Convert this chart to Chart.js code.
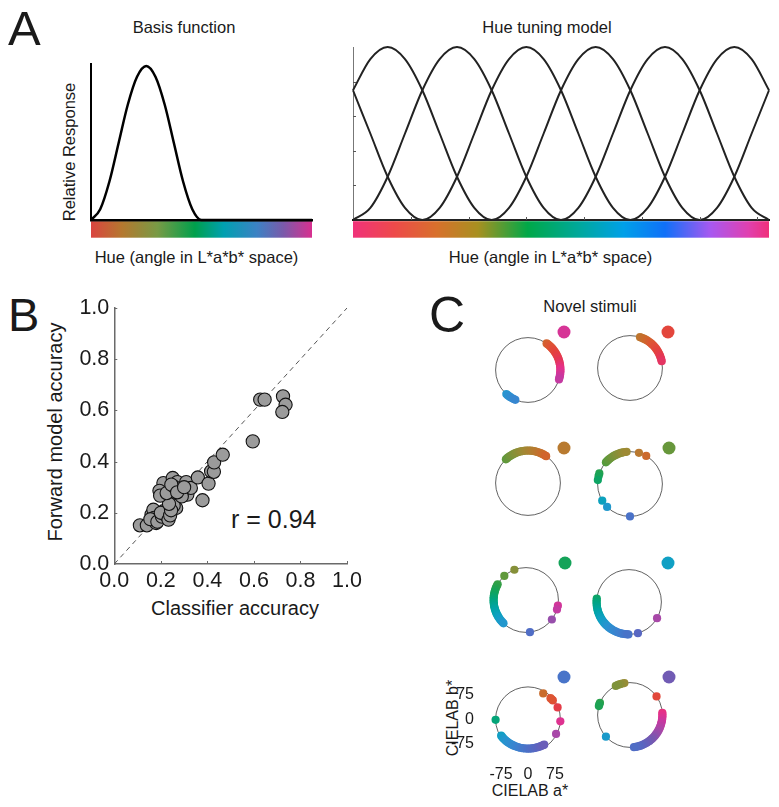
<!DOCTYPE html>
<html>
<head>
<meta charset="utf-8">
<script src="https://cdn.jsdelivr.net/npm/chart.js@4.4.1/dist/chart.umd.min.js"></script>
<style>
  body { margin: 0; background: #fff; }
  #page { position: relative; width: 779px; height: 807px; overflow: hidden;
          font-family: "Liberation Sans", Arial, sans-serif; color: #1a1a1a; }
  #page canvas { position: absolute; }
  .t { position: absolute; line-height: 1; white-space: nowrap; }
  .c { transform: translateX(-50%); }
  .r { transform: translate(-50%, -50%) rotate(-90deg); }
  .dot { position: absolute; width: 13px; height: 13px; border-radius: 50%; transform: translate(-50%, -50%); }
</style>
</head>
<body>
<div id="page">
  <div class="t" style="left:8px;top:3.6px;font-size:49px">A</div>
  <div class="t" style="left:8px;top:290.6px;font-size:47px">B</div>
  <div class="t" style="left:429px;top:289.5px;font-size:50px">C</div>

  <div class="t c" style="left:184px;top:19.3px;font-size:16.5px">Basis function</div>
  <div class="t c" style="left:547px;top:18.5px;font-size:16.5px">Hue tuning model</div>
  <div class="t c" style="left:196.5px;top:249.2px;font-size:16.5px">Hue (angle in L*a*b* space)</div>
  <div class="t c" style="left:550.5px;top:249.2px;font-size:16.5px">Hue (angle in L*a*b* space)</div>
  <div class="t r" style="left:68.5px;top:152px;font-size:16.5px">Relative Response</div>

  <div class="t r" style="left:55px;top:431.7px;font-size:20px">Forward model accuracy</div>
  <div class="t c" style="left:235px;top:598px;font-size:20px">Classifier accuracy</div>
  <div class="t" style="left:231px;top:506.5px;font-size:25px">r = 0.94</div>

  <div class="t c" style="left:590px;top:297.8px;font-size:16.5px">Novel stimuli</div>
  <div class="t r" style="left:452.5px;top:717.5px;font-size:16px">CIELAB b*</div>
  <div class="t c" style="left:530px;top:783px;font-size:16px">CIELAB a*</div>

  <canvas id="basis" width="235" height="190" style="left:85px;top:55px"></canvas>
  <canvas id="tuning" width="430" height="205" style="left:345px;top:40px"></canvas>
  <canvas id="scatterB" width="370" height="330" style="left:0px;top:280px"></canvas>

  <canvas id="c1" width="140" height="140" style="left:443px;top:315px"></canvas>
  <canvas id="c2" width="140" height="140" style="left:545px;top:313px"></canvas>
  <canvas id="c3" width="140" height="140" style="left:443px;top:428px"></canvas>
  <canvas id="c4" width="140" height="140" style="left:545px;top:429px"></canvas>
  <canvas id="c5" width="140" height="140" style="left:441px;top:545px"></canvas>
  <canvas id="c6" width="140" height="140" style="left:544px;top:547px"></canvas>
  <canvas id="c7" width="140" height="140" style="left:443px;top:660px"></canvas>
  <canvas id="c8" width="140" height="140" style="left:545px;top:660px"></canvas>

  <div class="dot" id="d1" style="left:564.3px;top:332.3px"></div>
  <div class="dot" id="d2" style="left:667.7px;top:332.3px"></div>
  <div class="dot" id="d3" style="left:564px;top:447.7px"></div>
  <div class="dot" id="d4" style="left:669.3px;top:447.7px"></div>
  <div class="dot" id="d5" style="left:565px;top:563.3px"></div>
  <div class="dot" id="d6" style="left:668.3px;top:562.7px"></div>
  <div class="dot" id="d7" style="left:564px;top:676.7px"></div>
  <div class="dot" id="d8" style="left:669.3px;top:676.7px"></div>
</div>

<script>
const hueDeg = [0, 15, 30, 45, 60, 75, 90, 105, 120, 135, 150, 165, 180,
  195, 210, 225, 240, 255, 270, 285, 300, 315, 330, 345, 360];
const basisResp = [0, .07, .25, .5, .75, .93, 1, .93, .75, .5, .25, .07, 0,
  0, 0, 0, 0, 0, 0, 0, 0, 0, 0, 0, 0];
const chan30 = [.75, .93, 1, .93, .75, .5, .25, .07, 0, 0, 0, 0, 0, 0, 0, 0, 0, 0, 0, 0, 0, .07, .25, .5, .75];
const chan90 = [0, .07, .25, .5, .75, .93, 1, .93, .75, .5, .25, .07, 0, 0, 0, 0, 0, 0, 0, 0, 0, 0, 0, 0, 0];
const chan150 = [0, 0, 0, 0, 0, .07, .25, .5, .75, .93, 1, .93, .75, .5, .25, .07, 0, 0, 0, 0, 0, 0, 0, 0, 0];
const chan210 = [0, 0, 0, 0, 0, 0, 0, 0, 0, .07, .25, .5, .75, .93, 1, .93, .75, .5, .25, .07, 0, 0, 0, 0, 0];
const chan270 = [0, 0, 0, 0, 0, 0, 0, 0, 0, 0, 0, 0, 0, .07, .25, .5, .75, .93, 1, .93, .75, .5, .25, .07, 0];
const chan330 = [.75, .5, .25, .07, 0, 0, 0, 0, 0, 0, 0, 0, 0, 0, 0, 0, 0, .07, .25, .5, .75, .93, 1, .93, .75];
const hueTicks = [50, 100, 150, 200, 250, 300, 350];
const respTicks = [0.2, 0.4, 0.6, 0.8];

// ---- Panel B
const classifierAcc = [0.11, 0.14, 0.16, 0.168, 0.171, 0.18, 0.155, 0.185, 0.211, 0.205, 0.215, 0.2,
  0.233, 0.24, 0.266, 0.251, 0.255, 0.244, 0.235, 0.211, 0.194, 0.197, 0.225, 0.251, 0.271, 0.28,
  0.309, 0.314, 0.329, 0.29, 0.26, 0.245, 0.27, 0.3, 0.359, 0.379, 0.405, 0.416, 0.428, 0.429,
  0.466, 0.595, 0.627, 0.646, 0.725, 0.736, 0.722];
const forwardAcc = [0.151, 0.151, 0.193, 0.212, 0.18, 0.16, 0.175, 0.165, 0.206, 0.185, 0.195, 0.2,
  0.173, 0.19, 0.219, 0.245, 0.228, 0.21, 0.235, 0.316, 0.286, 0.267, 0.277, 0.336, 0.32, 0.29,
  0.32, 0.271, 0.297, 0.264, 0.30, 0.31, 0.28, 0.30, 0.338, 0.249, 0.314, 0.362, 0.36, 0.397,
  0.427, 0.479, 0.642, 0.642, 0.655, 0.622, 0.594];
const accTicks = [0, 0.2, 0.4, 0.6, 0.8, 1.0];
const identity = [0, 1];

// ---- Panel C: decoded hues (deg in a*b* plane) per novel stimulus
const refHues = [352, 33, 75, 128, 168, 215, 268, 305];
const c1Hues = [55, 52, 49, 46, 43, 40, 37, 34, 31, 28, 25, 22, 19, 16, 13, 10, 7, 4, 1, -2, -5, -8, -11, -14, -17,
  228, 231, 234, 237, 241, 244, 247];
const c2Hues = [72, 69, 66, 63, 60, 57, 54, 51, 48, 45, 42, 39, 36, 33, 30, 27, 24, 21, 18, 15, 12];
const c3Hues = [133, 130, 127, 124, 121, 118, 115, 112, 109, 106, 103, 100, 97, 94, 91, 88, 85, 82, 79,
  76, 73, 70, 67, 64, 61, 58, 56];
const c4Hues = [138, 135, 132, 129, 126, 123, 120, 117, 114, 111, 108, 105, 102, 99, 96, 74, 60,
  161, 166, 173, 211, 225, 270];
const c5Hues = [111, 132, 151, 154, 157, 160, 163, 166, 169, 172, 175, 178, 181, 184, 187, 190, 193, 196,
  199, 202, 205, 208, 211, 214, 217, 220, 223, 226, 277, 350, 343, 323];
const c6Hues = [174, 177, 180, 183, 186, 189, 192, 195, 198, 201, 204, 207, 210, 213, 216, 219, 222, 225,
  228, 231, 234, 237, 240, 243, 246, 249, 252, 255, 258, 261, 264, 267, 269, 286, 330];
const c7Hues = [62, 40, 43, 46, 24, 356, 330, 181, 214, 217, 220, 223, 226, 229, 232, 235, 238, 241, 244,
  247, 250, 253, 256, 259, 262, 265, 268, 271, 274, 277, 280, 283, 286, 289, 292, 295, 298, 300];
const c8Hues = [100, 104, 108, 112, 116, 35, 158, 161, 164, 222, 4, 1, 358, 355, 352, 349, 346, 343, 340,
  337, 334, 331, 328, 325, 322, 319, 316, 313, 310, 307, 304, 301, 298, 295, 292, 289, 286, 283, 280, 277];
const ringTicks = [-75, 0, 75];

// colour look-up for hue angles
const hueStops = [0, 15, 30, 45, 60, 75, 95, 115, 135, 155, 170, 185, 200, 215, 230, 250, 270, 290, 310, 330, 345, 360];
const hueColors = ['#e6308a', '#e43658', '#e4423e', '#de5434', '#cc6a2c', '#b87a30', '#a08a34', '#80923a',
  '#5a9a3c', '#30a048', '#10a45c', '#00a482', '#00a4a8', '#10a0c4', '#2894d0', '#3a84d0', '#4a72c8',
  '#5c64c0', '#7858b0', '#a848a8', '#c838a0', '#e6308a'];

const barLeft = [[0, '#da4440'], [0.14, '#b5782f'], [0.3, '#789a45'], [0.47, '#00a04c'], [0.6, '#00a0b0'],
  [0.75, '#3c82c4'], [0.87, '#7a5aaa'], [1, '#d8308f']];
const barRight = [[0, '#f0327a'], [0.1, '#ee4a4a'], [0.2, '#d8702c'], [0.3, '#a89020'], [0.42, '#00a848'],
  [0.55, '#00a8a0'], [0.65, '#00a0e8'], [0.75, '#1070f8'], [0.86, '#a858f0'], [0.95, '#e040b0'], [1, '#f0307a']];

function hexRgb(h) { return [1, 3, 5].map(i => parseInt(h.substr(i, 2), 16)); }
function hueColor(h) {
  h = ((h % 360) + 360) % 360;
  let i = 0;
  while (i < hueStops.length - 2 && h > hueStops[i + 1]) i++;
  const f = (h - hueStops[i]) / (hueStops[i + 1] - hueStops[i]);
  const a = hexRgb(hueColors[i]), b = hexRgb(hueColors[i + 1]);
  return 'rgb(' + a.map((v, k) => Math.round(v + (b[k] - v) * f)).join(',') + ')';
}

Chart.defaults.font.family = '"Liberation Sans", Arial, sans-serif';
Chart.defaults.color = '#1a1a1a';

// gradient hue strip under the x axis
const hueBar = {
  id: 'hueBar',
  beforeDraw(chart, args, opts) {
    const { ctx, chartArea: a } = chart;
    const g = ctx.createLinearGradient(a.left, 0, a.right, 0);
    opts.stops.forEach(s => g.addColorStop(s[0], s[1]));
    ctx.save();
    ctx.fillStyle = g;
    ctx.fillRect(a.left, a.bottom + 1.2, a.right - a.left, 16.5);
    ctx.restore();
  }
};

// short tick marks pointing into the plot
const inTicks = {
  id: 'inTicks',
  afterDatasetsDraw(chart, args, opts) {
    const { ctx, chartArea: a, scales } = chart;
    ctx.save();
    ctx.strokeStyle = opts.color;
    ctx.lineWidth = 1;
    opts.x.forEach(v => {
      const px = Math.round(scales.x.getPixelForValue(v)) + 0.5;
      ctx.beginPath(); ctx.moveTo(px, a.bottom); ctx.lineTo(px, a.bottom - opts.len); ctx.stroke();
    });
    opts.y.forEach(v => {
      const py = Math.round(scales.y.getPixelForValue(v)) + 0.5;
      ctx.beginPath(); ctx.moveTo(a.left, py); ctx.lineTo(a.left + opts.len, py); ctx.stroke();
    });
    ctx.restore();
  }
};

// unit hue circle in the a*b* plane
const ring = {
  id: 'ring',
  beforeDatasetsDraw(chart, args, opts) {
    const { ctx, scales } = chart;
    const cx = scales.x.getPixelForValue(0), cy = scales.y.getPixelForValue(0);
    const r = scales.x.getPixelForValue(opts.r) - cx;
    ctx.save();
    ctx.strokeStyle = '#3a3a3a';
    ctx.lineWidth = 0.8;
    ctx.beginPath(); ctx.arc(cx, cy, r, 0, Math.PI * 2); ctx.stroke();
    ctx.restore();
  }
};

const hidden = (size) => ({
  grid: { display: false, drawTicks: false },
  ticks: { display: false },
  afterFit: s => { if (s.isHorizontal()) s.height = size; else s.width = size; }
});

function curve(vals, color, width) {
  return { data: hueDeg.map((h, i) => ({ x: h, y: vals[i] })), showLine: true, borderColor: color,
    borderWidth: width, pointRadius: 0, cubicInterpolationMode: 'monotone', clip: 5 };
}

new Chart(document.getElementById('basis'), {
  type: 'scatter',
  data: { datasets: [curve(basisResp, '#000', 2.5)] },
  options: {
    responsive: false, animation: false, events: [],
    layout: { padding: { left: 6, right: 8, top: 9, bottom: 25 } },
    plugins: { legend: { display: false }, tooltip: { enabled: false }, hueBar: { stops: barLeft } },
    scales: {
      x: Object.assign(hidden(0), { type: 'linear', min: 0, max: 360, border: { color: '#000', width: 2.5 } }),
      y: Object.assign(hidden(0), { min: 0, max: 1.013, border: { color: '#000', width: 2 } })
    }
  },
  plugins: [hueBar]
});

new Chart(document.getElementById('tuning'), {
  type: 'scatter',
  data: { datasets: [chan30, chan90, chan150, chan210, chan270, chan330].map(v => curve(v, '#222', 2)) },
  options: {
    responsive: false, animation: false, events: [],
    layout: { padding: { left: 8, right: 6, top: 7, bottom: 25 } },
    plugins: {
      legend: { display: false }, tooltip: { enabled: false },
      hueBar: { stops: barRight },
      inTicks: { x: hueTicks, y: respTicks, len: 3, color: '#555' }
    },
    scales: {
      x: Object.assign(hidden(0), { type: 'linear', min: 0, max: 360, border: { color: '#111', width: 2 } }),
      y: Object.assign(hidden(0), { min: 0, max: 1, border: { color: '#777', width: 1 } })
    }
  },
  plugins: [hueBar, inTicks]
});

const accAxis = (isX) => ({
  type: 'linear', min: 0, max: 1,
  grid: { display: false, drawTicks: false },
  border: { color: '#6a6a6a', width: 1.5 },
  ticks: { font: { size: 21.5 }, padding: isX ? 4 : 5, color: '#1a1a1a', callback: v => v.toFixed(1), maxRotation: 0, autoSkip: false },
  afterBuildTicks: s => { s.ticks = accTicks.map(v => ({ value: v })); },
  afterFit: s => { if (isX) s.height = 40; else s.width = 114.3; }
});

new Chart(document.getElementById('scatterB'), {
  type: 'scatter',
  data: {
    datasets: [
      { data: classifierAcc.map((x, i) => ({ x, y: forwardAcc[i] })), backgroundColor: '#9b9b9b',
        borderColor: '#111', borderWidth: 1.1, pointRadius: 6.6, order: 0, clip: false },
      { data: identity.map(v => ({ x: v, y: v })), showLine: true, borderColor: '#555', borderWidth: 1,
        borderDash: [5, 4], pointRadius: 0, order: 1 }
    ]
  },
  options: {
    responsive: false, animation: false, events: [],
    layout: { padding: { left: 0, right: 23, top: 28, bottom: 6 } },
    plugins: { legend: { display: false }, tooltip: { enabled: false },
      inTicks: { x: accTicks.slice(1), y: accTicks.slice(1), len: 3, color: '#6a6a6a' } },
    scales: { x: accAxis(true), y: accAxis(false) }
  },
  plugins: [inTicks]
});

const ringR = 90;
[c1Hues, c2Hues, c3Hues, c4Hues, c5Hues, c6Hues, c7Hues, c8Hues].forEach((hues, k) => {
  document.getElementById('d' + (k + 1)).style.background = hueColor(refHues[k]);
  const labelled = k === 6;
  const axis = (isX) => ({
    type: 'linear', min: -125, max: 125,
    grid: { display: false, drawTicks: false },
    border: { display: false },
    ticks: { display: labelled, font: { size: 16 }, padding: isX ? 5 : 9, color: '#1a1a1a', maxRotation: 0, autoSkip: false },
    afterBuildTicks: s => { s.ticks = ringTicks.map(v => ({ value: v })); },
    afterFit: s => { if (isX) s.height = 40; else s.width = 40; }
  });
  new Chart(document.getElementById('c' + (k + 1)), {
    type: 'scatter',
    data: { datasets: [{
      data: hues.map(h => ({ x: ringR * Math.cos(h * Math.PI / 180), y: ringR * Math.sin(h * Math.PI / 180) })),
      backgroundColor: hues.map(hueColor), borderWidth: 0, pointRadius: 4.1, clip: false
    }] },
    options: {
      responsive: false, animation: false, events: [],
      layout: { padding: { left: 0, right: 10, top: 10, bottom: 0 } },
      plugins: { legend: { display: false }, tooltip: { enabled: false }, ring: { r: ringR } },
      scales: { x: axis(true), y: axis(false) }
    },
    plugins: [ring]
  });
});
</script>
</body>
</html>
